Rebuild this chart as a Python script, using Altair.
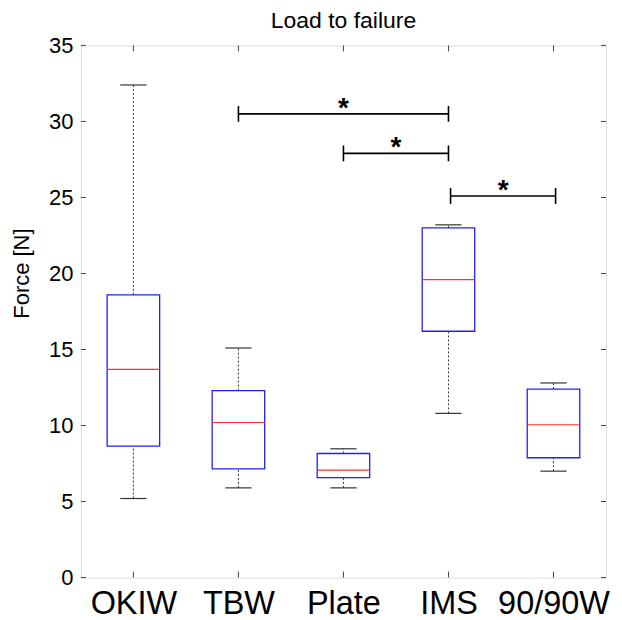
import altair as alt
import pandas as pd

# ---- data ----
categories = ["OKIW", "TBW", "Plate", "IMS", "90/90W"]
positions = [1, 2, 3, 4, 5]
lower_whisker = [5.2, 5.9, 5.9, 10.8, 7.0]
q1 = [8.65, 7.15, 6.57, 16.2, 7.88]
median = [13.7, 10.2, 7.07, 19.6, 10.05]
q3 = [18.6, 12.3, 8.16, 23.0, 12.4]
upper_whisker = [32.4, 15.1, 8.47, 23.2, 12.8]

sig_from = [2.0, 3.0, 4.02]
sig_to = [4.0, 4.0, 5.02]
sig_level = [30.5, 27.9, 25.1]
sig_label = ["*", "*", "*"]

y_ticks = [0, 5, 10, 15, 20, 25, 30, 35]

W, H = 526, 533

box_df = pd.DataFrame({
    "cat": categories, "pos": positions, "lo": lower_whisker, "q1": q1,
    "med": median, "q3": q3, "hi": upper_whisker,
})
sig_df = pd.DataFrame({"x1": sig_from, "x2": sig_to, "y": sig_level, "lab": sig_label})
yt_df = pd.DataFrame({"v": y_ticks})

label_expr = "[" + ",".join("'" + c + "'" for c in categories) + "][datum.value - 1]"

FONT = "Liberation Sans, Arial, sans-serif"

xscale = alt.Scale(domain=[0.5, 5.5], nice=False, zero=False)
yscale = alt.Scale(domain=[0, 35], nice=False, zero=True)

xaxis = alt.Axis(values=positions, labelExpr=label_expr, title=None, ticks=False,
                 domain=False, grid=False, labelFontSize=32.5, labelPadding=10,
                 labelColor="black", labelFont=FONT)
yaxis = alt.Axis(values=y_ticks, title="Force [N]", ticks=False, domain=False,
                 grid=False, labelFontSize=22, labelPadding=8, labelColor="black",
                 labelFont=FONT, titleFontSize=22,
                 titleFontWeight="normal", titleColor="black",
                 titleFont=FONT, titleX=-52, titleY=228,
                 titleBaseline="alphabetic", titleAngle=-90, titleAlign="center")

base = alt.Chart(box_df)

whisk_up = base.mark_rule(color="#333", strokeDash=[2, 2], strokeWidth=1).encode(
    x=alt.X("pos:Q", scale=xscale, axis=xaxis),
    y=alt.Y("q3:Q", scale=yscale, axis=yaxis),
    y2="hi:Q",
)
whisk_lo = base.mark_rule(color="#333", strokeDash=[2, 2], strokeWidth=1).encode(
    x="pos:Q", y="lo:Q", y2="q1:Q",
)
caps_hi = base.transform_calculate(a="datum.pos - 0.125", b="datum.pos + 0.125").mark_rule(
    color="#333", strokeWidth=1.2).encode(x="a:Q", x2="b:Q", y="hi:Q")
caps_lo = base.transform_calculate(a="datum.pos - 0.125", b="datum.pos + 0.125").mark_rule(
    color="#333", strokeWidth=1.2).encode(x="a:Q", x2="b:Q", y="lo:Q")
boxes = base.transform_calculate(a="datum.pos - 0.25", b="datum.pos + 0.25").mark_rect(
    fill="white", fillOpacity=0, stroke="#2020ff", strokeWidth=1.3).encode(
    x="a:Q", x2="b:Q", y="q1:Q", y2="q3:Q")
meds = base.transform_calculate(a="datum.pos - 0.25", b="datum.pos + 0.25").mark_rule(
    color="#ff3030", strokeWidth=1.2).encode(x="a:Q", x2="b:Q", y="med:Q")

sig = alt.Chart(sig_df)
sig_bar = sig.mark_rule(color="black", strokeWidth=1.6).encode(x="x1:Q", x2="x2:Q", y="y:Q")
sig_end1 = sig.transform_calculate(ya="datum.y - 0.52", yb="datum.y + 0.52").mark_rule(
    color="black", strokeWidth=1.6).encode(x="x1:Q", y="ya:Q", y2="yb:Q")
sig_end2 = sig.transform_calculate(ya="datum.y - 0.52", yb="datum.y + 0.52").mark_rule(
    color="black", strokeWidth=1.6).encode(x="x2:Q", y="ya:Q", y2="yb:Q")
sig_txt = sig.transform_calculate(xm="(datum.x1 + datum.x2) / 2").mark_text(
    fontSize=28, fontWeight="bold", baseline="alphabetic", dy=3, color="black",
    font=FONT).encode(x="xm:Q", y="y:Q", text="lab:N")

yt = alt.Chart(yt_df)
tick_l = yt.mark_rule(color="#444").encode(y="v:Q", x=alt.value(0), x2=alt.value(5))
tick_r = yt.mark_rule(color="#444").encode(y="v:Q", x=alt.value(W - 5), x2=alt.value(W))
tick_b = base.mark_rule(color="#444").encode(x="pos:Q", y=alt.value(H - 6), y2=alt.value(H))
tick_t = base.mark_rule(color="#444").encode(x="pos:Q", y=alt.value(0), y2=alt.value(6))

chart = alt.layer(
    whisk_up, whisk_lo, caps_hi, caps_lo, boxes, meds,
    sig_bar, sig_end1, sig_end2, sig_txt,
    tick_l, tick_r, tick_b, tick_t,
).properties(
    width=W, height=H,
    title=alt.TitleParams("Load to failure", fontSize=23, fontWeight="normal",
                          color="black", font=FONT, anchor="middle",
                          frame="group", offset=1),
    autosize=alt.AutoSizeParams(type="none"),
    padding={"left": 73, "top": 37, "right": 8, "bottom": 42},
).configure_view(stroke="#444", strokeWidth=1.2).configure(background="white")

chart.save("out.html", embed_options={"renderer": "svg", "actions": False})
